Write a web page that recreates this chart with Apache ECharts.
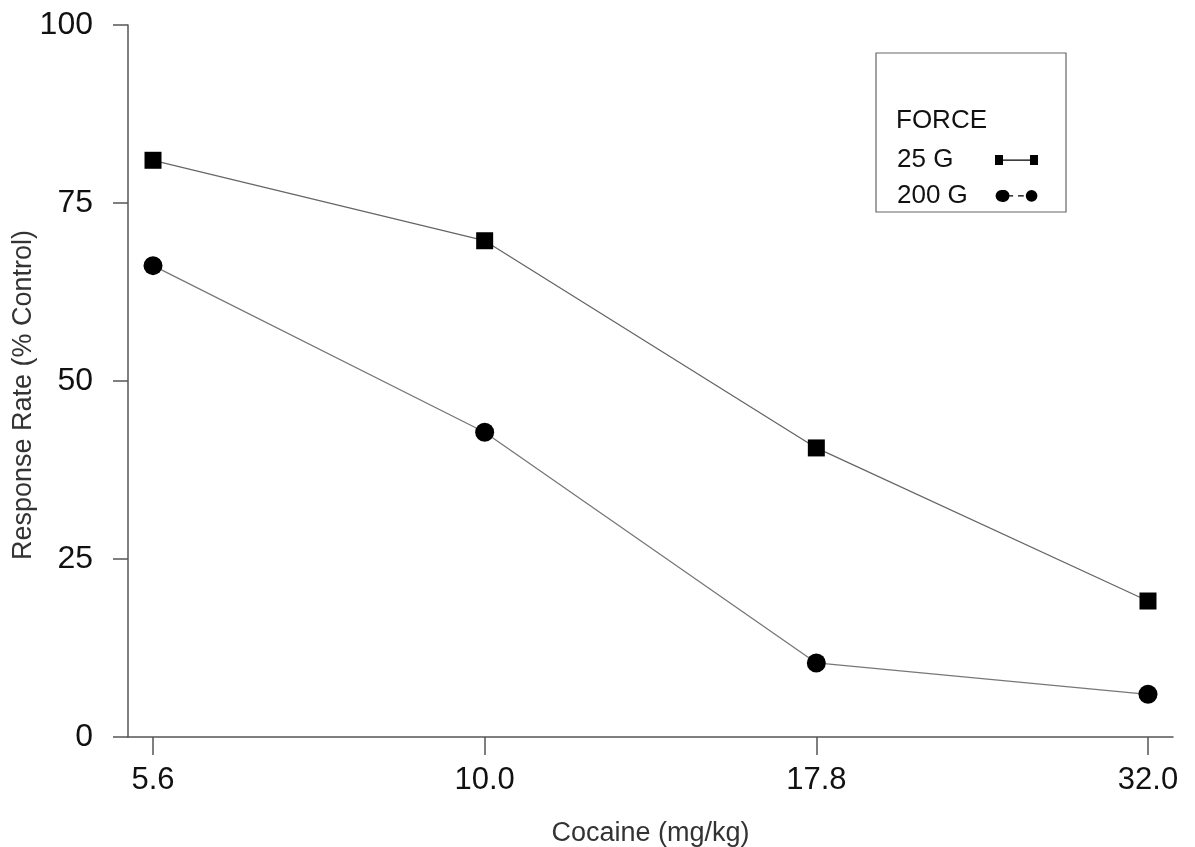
<!DOCTYPE html>
<html>
<head>
    <meta charset="utf-8">
    <title>Cocaine response rate</title>
    <script src="https://cdn.jsdelivr.net/npm/echarts@6/dist/echarts.min.js"></script>
    <style>
        html, body { margin: 0; padding: 0; background: #fff; }
        #main { width: 1195px; height: 847px; }
    </style>
</head>
<body>
<div id="main"></div>
<script type="text/javascript">
    // dose categories (log spaced, drawn evenly)
    var doses = ['5.6', '10.0', '17.8', '32.0'];
    var yTicks = [0, 25, 50, 75, 100];
    // response rate, % of control
    var force25 = [81.0, 69.7, 40.6, 19.1];
    var force200 = [66.2, 42.8, 10.4, 6.0];

    var xIdx = [];
    for (var i = 0; i < doses.length; i++) xIdx.push(i);

    function pairs(vals) {
        var out = [];
        for (var i = 0; i < vals.length; i++) out.push([i, vals[i]]);
        return out;
    }

    var font = '"Liberation Sans", Arial, sans-serif';
    var myChart = echarts.init(document.getElementById('main'));

    var option = {
        backgroundColor: '#fff',
        animation: false,
        grid: { left: 128, right: 22, top: 25, bottom: 110, outerBoundsMode: 'none', containLabel: false },
        title: {
            text: 'FORCE',
            left: 896, top: 108,
            padding: 0,
            textStyle: { fontFamily: font, fontSize: 26, fontWeight: 'normal', color: '#111' }
        },
        legend: {
            orient: 'vertical',
            left: 876, top: 53,
            align: 'right',
            padding: [94, 28, 3, 21],
            borderColor: '#666',
            borderWidth: 1.2,
            itemWidth: 43,
            itemHeight: 12,
            itemGap: 10,
            selectedMode: false,
            textStyle: {
                fontFamily: font, fontSize: 26, color: '#111',
                rich: { a: { width: 93, align: 'left', lineHeight: 30, fontFamily: font, fontSize: 26, color: '#111' } }
            },
            formatter: '{a|{name}}',
            data: [
                { name: '25 G', icon: 'path://M0,0h8v10h-8z M8,4.5h27v1.2h-27z M35,0h8v10h-8z' },
                { name: '200 G', icon: 'path://M6,12a6,6 0 1,1 0,-12h4a6,6 0 1,1 -4,12z M12,5.4h6v1.2h-6z M23,5.4h6v1.2h-6z M37,12a6,6 0 1,1 0,-12a6,6 0 1,1 0,12z' }
            ]
        },
        xAxis: {
            type: 'value',
            min: -0.0754,
            max: 3.0754,
            name: 'Cocaine (mg/kg)',
            nameLocation: 'middle',
            nameGap: 83,
            nameMoveOverlap: false,
            nameTextStyle: { fontFamily: font, fontSize: 27, color: '#333' },
            axisLine: { onZero: false, lineStyle: { color: '#555', width: 1.5 } },
            axisTick: {
                show: true, customValues: xIdx, length: 18, inside: false,
                lineStyle: { color: '#555', width: 1.5 }
            },
            axisLabel: {
                customValues: xIdx,
                margin: 28,
                fontFamily: font, fontSize: 31, color: '#111',
                formatter: function (v) { return doses[Math.round(v)]; }
            },
            splitLine: { show: false }
        },
        yAxis: {
            type: 'value',
            min: 0,
            max: 100,
            name: 'Response Rate (% Control)',
            nameLocation: 'middle',
            nameGap: 91,
            nameMoveOverlap: false,
            nameTextStyle: { fontFamily: font, fontSize: 27, color: '#333', padding: [0, 28, 0, 0] },
            axisLine: { show: true, onZero: false, lineStyle: { color: '#555', width: 1.5 } },
            axisTick: {
                show: true, customValues: yTicks, length: 15,
                lineStyle: { color: '#555', width: 1.5 }
            },
            axisLabel: {
                customValues: yTicks,
                margin: 35,
                fontFamily: font, fontSize: 32, color: '#111'
            },
            splitLine: { show: false }
        },
        series: [
            {
                name: '25 G',
                type: 'line',
                data: pairs(force25),
                symbol: 'rect',
                symbolSize: 17,
                itemStyle: { color: '#000' },
                lineStyle: { color: '#666', width: 1.3 }
            },
            {
                name: '200 G',
                type: 'line',
                data: pairs(force200),
                symbol: 'circle',
                symbolSize: 19,
                itemStyle: { color: '#000' },
                lineStyle: { color: '#777', width: 1.3 }
            }
        ]
    };

    myChart.setOption(option);
</script>
</body>
</html>
